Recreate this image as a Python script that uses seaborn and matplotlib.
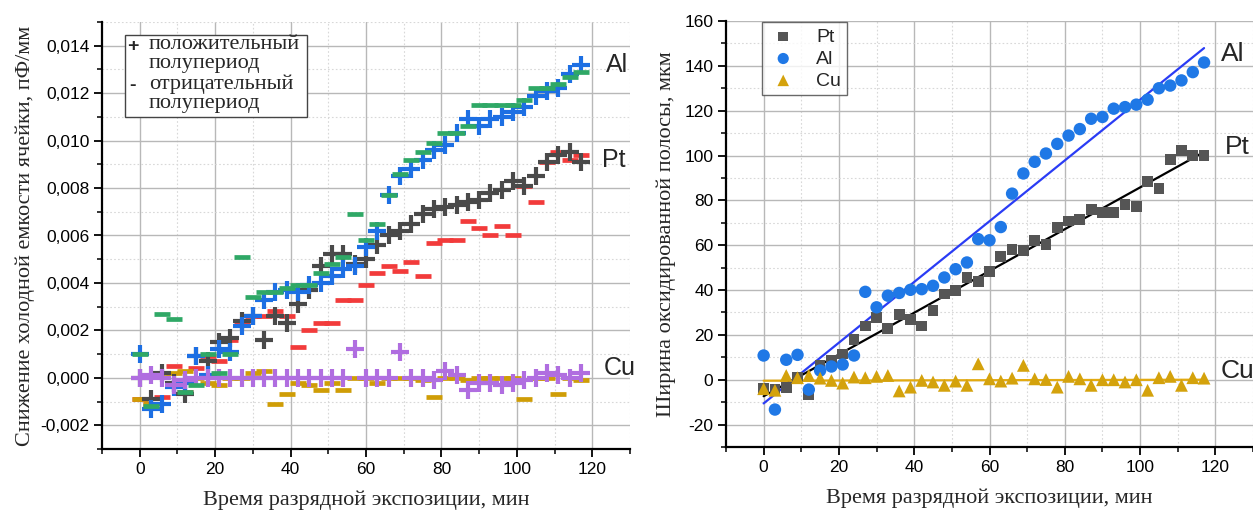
import numpy as np
import pandas as pd
import matplotlib
matplotlib.use("Agg")
import matplotlib.pyplot as plt
from matplotlib.patches import Rectangle
from matplotlib.ticker import MultipleLocator, FixedLocator, FixedFormatter
import seaborn as sns

# ---------------- data ----------------
t = [0, 3, 6, 9, 12, 15, 18, 21, 24, 27, 30, 33, 36, 39, 42, 45, 48, 51, 54, 57,
     60, 63, 66, 69, 72, 75, 78, 81, 84, 87, 90, 93, 96, 99, 102, 105, 108, 111, 114, 117]

# left panel: decrease of cold capacitance, pF/mm
al_pos = [0.0010, -0.0013, -0.0011, -0.0004, -0.0002, 0.0009, 0.0001, 0.0012, 0.0011, 0.0022,
          0.0026, 0.0033, 0.0036, 0.0037, 0.0036, 0.0039, 0.0040, 0.0043, 0.0046, 0.0047,
          0.0055, 0.0062, 0.0077, 0.0085, 0.0088, 0.0092, 0.0096, 0.0098, 0.0103, 0.0109,
          0.0106, 0.0109, 0.0110, 0.0112, 0.0114, 0.0119, 0.0121, 0.0122, 0.0128, 0.0132]
al_neg = [0.0010, -0.0012, 0.0027, 0.0025, -0.0006, -0.0003, 0.0010, 0.0002, 0.0010, 0.0051,
          0.0034, 0.0036, 0.0036, 0.0038, 0.0039, 0.0039, 0.0044, 0.0048, 0.0051, 0.0069,
          0.0058, 0.0065, 0.0077, 0.0086, 0.0092, 0.0095, 0.0099, 0.0103, 0.0103, 0.0106,
          0.0115, 0.0115, 0.0115, 0.0115, 0.0117, 0.0122, 0.0122, 0.0124, 0.0127, 0.0129]
pt_pos = [0.0000, -0.0009, 0.0002, -0.0002, -0.0007, 0.0009, 0.0007, 0.0015, 0.0017, 0.0024,
          0.0026, 0.0016, 0.0026, 0.0023, 0.0031, 0.0037, 0.0047, 0.0052, 0.0052, 0.0048,
          0.0050, 0.0056, 0.0060, 0.0062, 0.0065, 0.0069, 0.0071, 0.0072, 0.0073, 0.0074,
          0.0075, 0.0078, 0.0079, 0.0083, 0.0081, 0.0085, 0.0091, 0.0094, 0.0095, 0.0091]
pt_neg = [-0.0009, -0.0011, -0.0008, 0.0005, -0.0006, 0.0004, 0.0009, 0.0007, 0.0016, 0.0023,
          0.0026, 0.0026, 0.0028, 0.0026, 0.0013, 0.0020, 0.0023, 0.0023, 0.0033, 0.0033,
          0.0039, 0.0044, 0.0047, 0.0045, 0.0049, 0.0043, 0.0057, 0.0058, 0.0058, 0.0066,
          0.0063, 0.0060, 0.0064, 0.0060, 0.0081, 0.0074, 0.0091, 0.0095, 0.0092, 0.0094]
cu_pos = [0.0000, 0.0001, 0.0000, -0.0003, -0.0001, 0.0000, 0.0000, 0.0000, 0.0000, 0.0000,
          0.0000, 0.0000, 0.0000, 0.0000, 0.0000, 0.0000, 0.0000, 0.0000, 0.0000, 0.0012,
          0.0000, 0.0000, 0.0000, 0.0011, 0.0000, 0.0000, -0.0001, 0.0003, 0.0001, -0.0005,
          -0.0002, -0.0002, -0.0003, -0.0002, -0.0001, 0.0000, 0.0002, 0.0001, 0.0000, 0.0002]
cu_neg = [-0.0009, -0.0011, 0.0002, 0.0002, 0.0003, 0.0000, -0.0002, -0.0003, 0.0000, 0.0000,
          0.0002, 0.0003, -0.0011, -0.0007, -0.0002, -0.0003, -0.0005, -0.0002, -0.0005, 0.0000,
          0.0000, -0.0002, 0.0000, 0.0000, 0.0000, -0.0001, -0.0008, 0.0000, 0.0000, -0.0001,
          0.0000, 0.0000, 0.0000, 0.0000, -0.0009, 0.0000, 0.0000, -0.0007, 0.0000, -0.0001]

# right panel: width of oxidized band, um
pt_w = [-4.0, -4.5, -3.5, 1.0, -6.5, 6.5, 8.5, 11.5, 17.8, 24.0,
        27.8, 22.7, 29.0, 26.7, 24.0, 30.8, 38.2, 39.7, 45.6, 43.8,
        48.3, 55.0, 58.2, 57.5, 62.0, 60.4, 67.8, 70.8, 71.5, 76.0,
        74.5, 74.5, 78.0, 77.2, 88.3, 85.2, 98.2, 102.2, 100.1, 100.1]
al_w = [10.8, -13.3, 8.9, 11.1, -4.4, 4.1, 5.9, 6.8, 10.8, 39.2,
        32.3, 37.5, 38.7, 40.1, 40.4, 41.9, 45.6, 49.3, 52.3, 62.7,
        62.2, 68.1, 83.0, 92.0, 97.2, 100.9, 105.2, 108.9, 111.8, 116.4,
        117.2, 120.9, 121.6, 122.7, 124.9, 130.0, 131.2, 133.5, 137.2, 141.5]
cu_w = [-4.0, -4.7, 1.9, 0.9, 1.9, 0.7, -0.3, -1.5, 1.2, 0.9,
        1.5, 1.9, -5.0, -3.3, -0.3, -1.0, -2.5, -0.6, -2.5, 7.1,
        0.4, -0.6, 0.7, 6.4, 0.4, 0.1, -3.3, 1.5, 0.4, -2.5,
        0.0, 0.0, -1.0, 0.0, -4.7, 0.9, 1.5, -2.5, 0.9, 0.7]

x_ticks = [0, 20, 40, 60, 80, 100, 120]
x_tick_labels = ["0", "20", "40", "60", "80", "100", "120"]
left_y_ticks = [-0.002, 0.000, 0.002, 0.004, 0.006, 0.008, 0.010, 0.012, 0.014]
left_y_labels = ["-0,002", "0,000", "0,002", "0,004", "0,006", "0,008", "0,010", "0,012", "0,014"]
right_y_ticks = [-20, 0, 20, 40, 60, 80, 100, 120, 140, 160]
right_y_labels = ["-20", "0", "20", "40", "60", "80", "100", "120", "140", "160"]

xlabel = "Время разрядной экспозиции, мин"
ylabel_left = "Снижение холодной емкости ячейки, пФ/мм"
ylabel_right = "Ширина оксидированной полосы, мкм"
legend_left_syms = ["+", "-"]
legend_left = ["положительный\nполупериод", "отрицательный\nполупериод"]
metals = ["Pt", "Al", "Cu"]

# ---------------- style ----------------
sns.set_theme(style="white")
plt.rcParams["font.family"] = ["Liberation Sans", "DejaVu Sans"]
SERIF = ["Liberation Serif", "DejaVu Serif"]

C_BLUE = "#1d6fe3"
C_GREEN = "#2fa866"
C_DARK = "#4a4a4a"
C_RED = "#f23b3b"
C_PURPLE = "#b06ee0"
C_GOLD = "#cf9d06"

fig = plt.figure(figsize=(12.53, 5.11), dpi=100)
ax1 = fig.add_axes([102 / 1253, 1 - 449 / 511, 528 / 1253, 427 / 511])
ax2 = fig.add_axes([726 / 1253, 1 - 447 / 511, 527 / 1253, 426 / 511])


def style_axes(ax, xlim, ylim, xmin_step, ymin_step, yticks, ylabels):
    ax.set_xlim(*xlim)
    ax.set_ylim(*ylim)
    ax.xaxis.set_major_locator(FixedLocator(x_ticks))
    ax.xaxis.set_major_formatter(FixedFormatter(x_tick_labels))
    ax.yaxis.set_major_locator(FixedLocator(yticks))
    ax.yaxis.set_major_formatter(FixedFormatter(ylabels))
    ax.xaxis.set_minor_locator(MultipleLocator(xmin_step))
    ax.yaxis.set_minor_locator(MultipleLocator(ymin_step))
    ax.grid(True, which="major", color="#b8b8b8", lw=1.0, ls="-")
    ax.grid(True, which="minor", color="#d8d8d8", lw=0.8, ls=(0, (1.5, 2)))
    ax.set_axisbelow(True)
    for s in ["top", "right"]:
        ax.spines[s].set_visible(False)
    for s in ["left", "bottom"]:
        ax.spines[s].set_color("black")
        ax.spines[s].set_linewidth(1.6)
    ax.tick_params(which="major", direction="out", length=6, width=1.3, colors="black",
                   labelsize=12.5, left=True, bottom=True, pad=3)
    ax.tick_params(which="minor", direction="out", length=3.5, width=1.1, colors="black",
                   left=True, bottom=True)
    ax.set_xlabel(xlabel, family=SERIF, fontsize=16, labelpad=10)


# ---------------- left panel ----------------
style_axes(ax1, (-10, 130), (-0.003, 0.015), 10, 0.001, left_y_ticks, left_y_labels)
ax1.set_ylabel(ylabel_left, family=SERIF, fontsize=16, labelpad=4)

plus_kw = dict(marker="+", s=150, linewidth=3.0, ax=ax1, legend=False)
dash_kw = dict(marker="_", s=125, linewidth=3.4, ax=ax1, legend=False)
sns.scatterplot(x=t, y=pt_neg, color=C_RED, zorder=3, **dash_kw)
sns.scatterplot(x=t, y=cu_neg, color=C_GOLD, zorder=3, **dash_kw)
sns.scatterplot(x=t, y=pt_pos, color=C_DARK, zorder=4, **plus_kw)
sns.scatterplot(x=t, y=al_pos, color=C_BLUE, zorder=5, **plus_kw)
sns.scatterplot(x=t, y=al_neg, color=C_GREEN, zorder=6, **dash_kw)
sns.scatterplot(x=t, y=cu_pos, color=C_PURPLE, zorder=5, **plus_kw)

ax1.text(123.5, 0.0132, "Al", fontsize=18, va="center", ha="left")
ax1.text(122.5, 0.0092, "Pt", fontsize=18, va="center", ha="left")
ax1.text(123.0, 0.0004, "Cu", fontsize=18, va="center", ha="left")

# legend box (text legend as in the original)
ax1.add_patch(Rectangle((0.0436, 0.7775), 0.3446, 0.1921, transform=ax1.transAxes,
                        facecolor="white", edgecolor="#444444", lw=1.0, zorder=10))
for i, (sym, lab) in enumerate(zip(legend_left_syms, legend_left)):
    ytop = 0.969 - i * 0.0915
    ax1.text(0.0585, ytop - 0.026, sym, transform=ax1.transAxes, fontsize=14,
             ha="center", va="center", zorder=11, fontweight="bold")
    ax1.text(0.089, ytop, lab, transform=ax1.transAxes, fontsize=16, family=SERIF,
             ha="left", va="top", linespacing=1.0, zorder=11)

# ---------------- right panel ----------------
style_axes(ax2, (-10, 130), (-30, 160), 10, 10, right_y_ticks, right_y_labels)
ax2.set_ylabel(ylabel_right, family=SERIF, fontsize=16, labelpad=6)

sns.regplot(x=t, y=cu_w, ax=ax2, scatter=False, ci=None, truncate=True,
            line_kws=dict(color="#e3aa10", lw=1.6, zorder=2))
sns.regplot(x=t, y=pt_w, ax=ax2, scatter=False, ci=None, truncate=True,
            line_kws=dict(color="black", lw=1.6, zorder=2))
sns.regplot(x=t, y=al_w, ax=ax2, scatter=False, ci=None, truncate=True,
            line_kws=dict(color="#2a3cf5", lw=1.6, zorder=2))

sns.scatterplot(x=t, y=pt_w, ax=ax2, marker="s", s=60, color="#555555", edgecolor="none",
                label=metals[0], zorder=4)
sns.scatterplot(x=t, y=al_w, ax=ax2, marker="o", s=80, color="#1f78e6", edgecolor="none",
                label=metals[1], zorder=4)
sns.scatterplot(x=t, y=cu_w, ax=ax2, marker="^", s=85, color="#d4a20c", edgecolor="none",
                label=metals[2], zorder=4)

ax2.text(121.5, 145.5, "Al", fontsize=19, va="center", ha="left")
ax2.text(122.5, 104, "Pt", fontsize=19, va="center", ha="left")
ax2.text(121.5, 4, "Cu", fontsize=19, va="center", ha="left")

leg2 = ax2.legend(loc="upper left", bbox_to_anchor=(0.068, 0.997), fontsize=14,
                  frameon=True, fancybox=False, edgecolor="#444444", handlelength=1.6,
                  handletextpad=0.9, labelspacing=0.22, borderpad=0.3, borderaxespad=0,
                  markerscale=0.9)
leg2.get_frame().set_linewidth(1.0)

fig.savefig("out.png", dpi=100)
